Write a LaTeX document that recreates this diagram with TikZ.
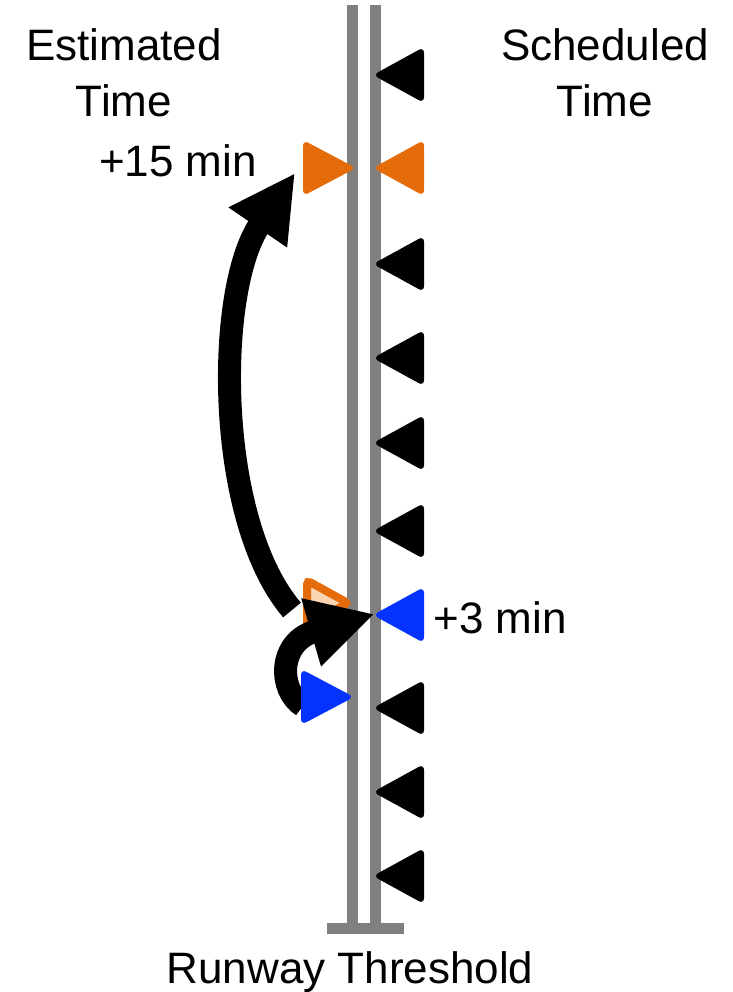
\documentclass[tikz,border=0pt]{standalone}
\usepackage{fontspec}
\setmainfont{Liberation Sans}
\usetikzlibrary{arrows.meta}
\definecolor{rwgray}{HTML}{808080}
\definecolor{estorange}{HTML}{E46C0A}
\definecolor{estblue}{HTML}{0433FF}
\definecolor{peach}{HTML}{FCD5B5}
\begin{document}
\begin{tikzpicture}[x=1pt,y=-1pt,
  lbl/.style={font=\fontsize{44}{56}\selectfont, inner sep=0pt, align=center},
  runway/.style={rwgray, line width=11pt},
  conn/.style={line width=23pt, -{Triangle[length=66pt,width=66pt]}},
  pics/schedtri/.style={code={\fill[#1,rounded corners=6pt] (-4,0) -- (47,-28) -- (47,28) -- cycle;}},
  pics/esttri/.style={code={\fill[#1,rounded corners=6pt] (4,0) -- (-49,-28) -- (-49,28) -- cycle;}},
]
\useasboundingbox (0,0) rectangle (732,992);
% runway
\draw[runway] (352.5,5) -- (352.5,923);
\draw[runway] (375.5,5) -- (375.5,923);
\fill[rwgray] (327,923) rectangle (404,934);
% scheduled times
\coordinate (s1) at (377,75);
\coordinate (s2) at (377,168);
\coordinate (s3) at (377,264);
\coordinate (s4) at (377,358);
\coordinate (s5) at (377,443);
\coordinate (s6) at (377,531);
\coordinate (s7) at (377,615);
\coordinate (s8) at (377,708);
\coordinate (s9) at (377,792);
\coordinate (s10) at (377,876);
\foreach \i in {1,3,4,5,6,8,9,10} {\pic at (s\i) {schedtri=black};}
\pic at (s2) {schedtri=estorange};
\pic at (s7) {schedtri=estblue};
% estimated times
\coordinate (e1) at (352,168);
\coordinate (e2) at (352,603);
\coordinate (e3) at (350,697);
\pic at (e1) {esttri=estorange};
% connectors
\coordinate (bigstart) at (292,610);
\coordinate (bigend) at (295,173);
\draw[conn] (bigstart) .. controls (215,520) and (215,290) .. (bigend);
\filldraw[fill=peach, draw=estorange, line width=8pt, rounded corners=4pt]
  (348,603) -- (307,580.5) -- (307,625.5) -- cycle;
\coordinate (smallstart) at (303,706);
\coordinate (smallend) at (374.5,614);
\draw[conn] (smallstart) .. controls (278,690) and (278,642) .. (smallend);
\pic at (e3) {esttri=estblue};
% labels
\node[lbl, anchor=base] (esthead) at (124,117) {Estimated\\Time};
\node[lbl, anchor=base] (schedhead) at (605,117) {Scheduled\\Time};
\node[lbl, anchor=base] (plus15) at (178,177) {+15 min};
\node[lbl, anchor=base] (plus3) at (500,633) {+3 min};
\node[lbl, anchor=base] (threshold) at (350,983) {Runway Threshold};
\end{tikzpicture}
\end{document}
